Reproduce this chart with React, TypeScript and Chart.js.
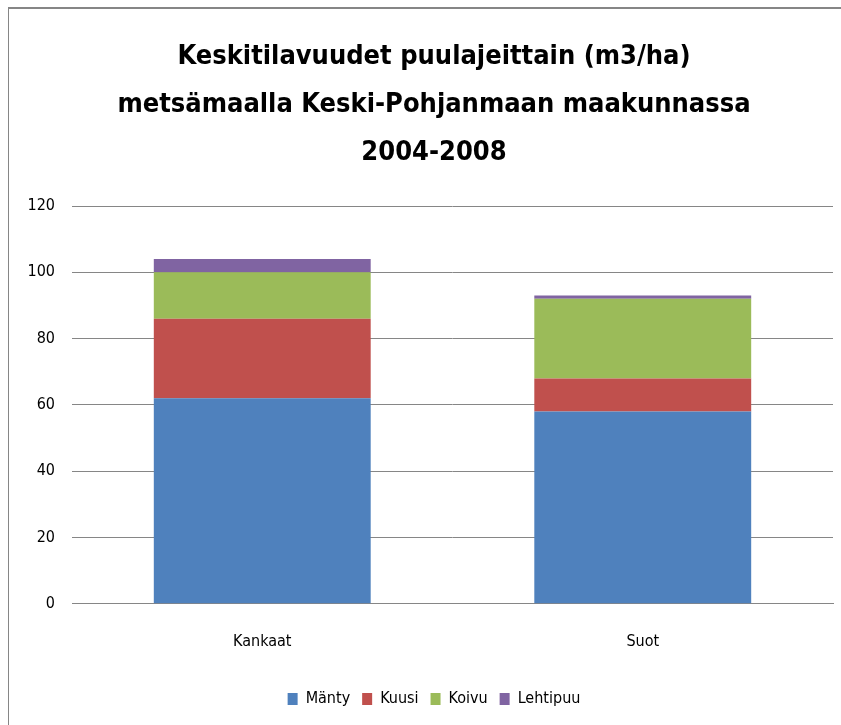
import React, { useEffect, useRef } from "react";
import { Chart, registerables } from "chart.js";

Chart.register(...registerables);

const categories = ["Kankaat", "Suot"];
const seriesNames = ["Mänty", "Kuusi", "Koivu", "Lehtipuu"];
const mantyValues = [62, 58];
const kuusiValues = [24, 10];
const koivuValues = [14, 24];
const lehtipuuValues = [4, 1];
const seriesColors = ["#4F81BD", "#C0504D", "#9BBB59", "#8064A2"];
const titleLines = [
  "Keskitilavuudet puulajeittain (m3/ha)",
  "metsämaalla Keski-Pohjanmaan maakunnassa",
  "2004-2008",
];
const yMin = 0;
const yMax = 120;
const yStep = 20;

const FONT = "'Liberation Sans Narrow', 'DejaVu Sans Condensed', 'Open Sans', sans-serif";

const frameBorder = {
  id: "frameBorder",
  beforeDraw(chart: any) {
    const ctx = chart.ctx;
    ctx.save();
    ctx.fillStyle = "#ffffff";
    ctx.fillRect(0, 0, chart.width, chart.height);
    ctx.strokeStyle = "#868686";
    ctx.lineWidth = 2;
    ctx.beginPath();
    ctx.moveTo(8, 8);
    ctx.lineTo(chart.width, 8);
    ctx.stroke();
    ctx.lineWidth = 1;
    ctx.beginPath();
    ctx.moveTo(8.5, 7);
    ctx.lineTo(8.5, chart.height);
    ctx.stroke();
    ctx.restore();
  },
};

export default function App() {
  const ref = useRef<HTMLCanvasElement | null>(null);
  useEffect(() => {
    if (!ref.current) return;
    const allValues = [mantyValues, kuusiValues, koivuValues, lehtipuuValues];
    const chart = new Chart(ref.current, {
      type: "bar",
      data: {
        labels: categories,
        datasets: seriesNames.map((name, i) => ({
          label: name,
          data: allValues[i],
          backgroundColor: seriesColors[i],
          borderWidth: 0,
          barPercentage: 0.57,
          categoryPercentage: 1,
        })),
      },
      options: {
        animation: false,
        responsive: false,
        maintainAspectRatio: false,
        layout: { padding: { left: 35, right: 8, top: 0, bottom: 8 } },
        plugins: {
          title: {
            display: true,
            text: titleLines,
            color: "#000000",
            font: { family: FONT, size: 27, weight: "bold", lineHeight: 48 / 27 },
            padding: { top: 33, bottom: 29 },
          },
          legend: {
            position: "bottom",
            labels: {
              color: "#000000",
              font: { family: FONT, size: 16 },
              boxWidth: 10,
              boxHeight: 12,
              padding: 12,
            },
          },
          tooltip: { enabled: false },
        },
        scales: {
          x: {
            stacked: true,
            grid: { display: false, drawTicks: false },
            border: { display: true, color: "#868686" },
            ticks: { color: "#000000", font: { family: FONT, size: 16 }, padding: 28 },
          },
          y: {
            stacked: true,
            min: yMin,
            max: yMax,
            afterFit: (scale: any) => {
              scale.width = 37;
              // let labels extend into the left layout padding without clipping
              scale._computeLabelArea = () => undefined;
            },
            ticks: {
              stepSize: yStep,
              color: "#000000",
              font: { family: FONT, size: 16 },
              padding: 17,
            },
            grid: { color: "#868686", drawTicks: false },
            border: { display: false },
          },
        },
      },
      plugins: [frameBorder],
    });
    return () => chart.destroy();
  }, []);
  return (
    <div style={{ position: "absolute", left: 0, top: 0, width: 841, height: 725 }}>
      <canvas ref={ref} width={841} height={725} style={{ display: "block" }} />
    </div>
  );
}
